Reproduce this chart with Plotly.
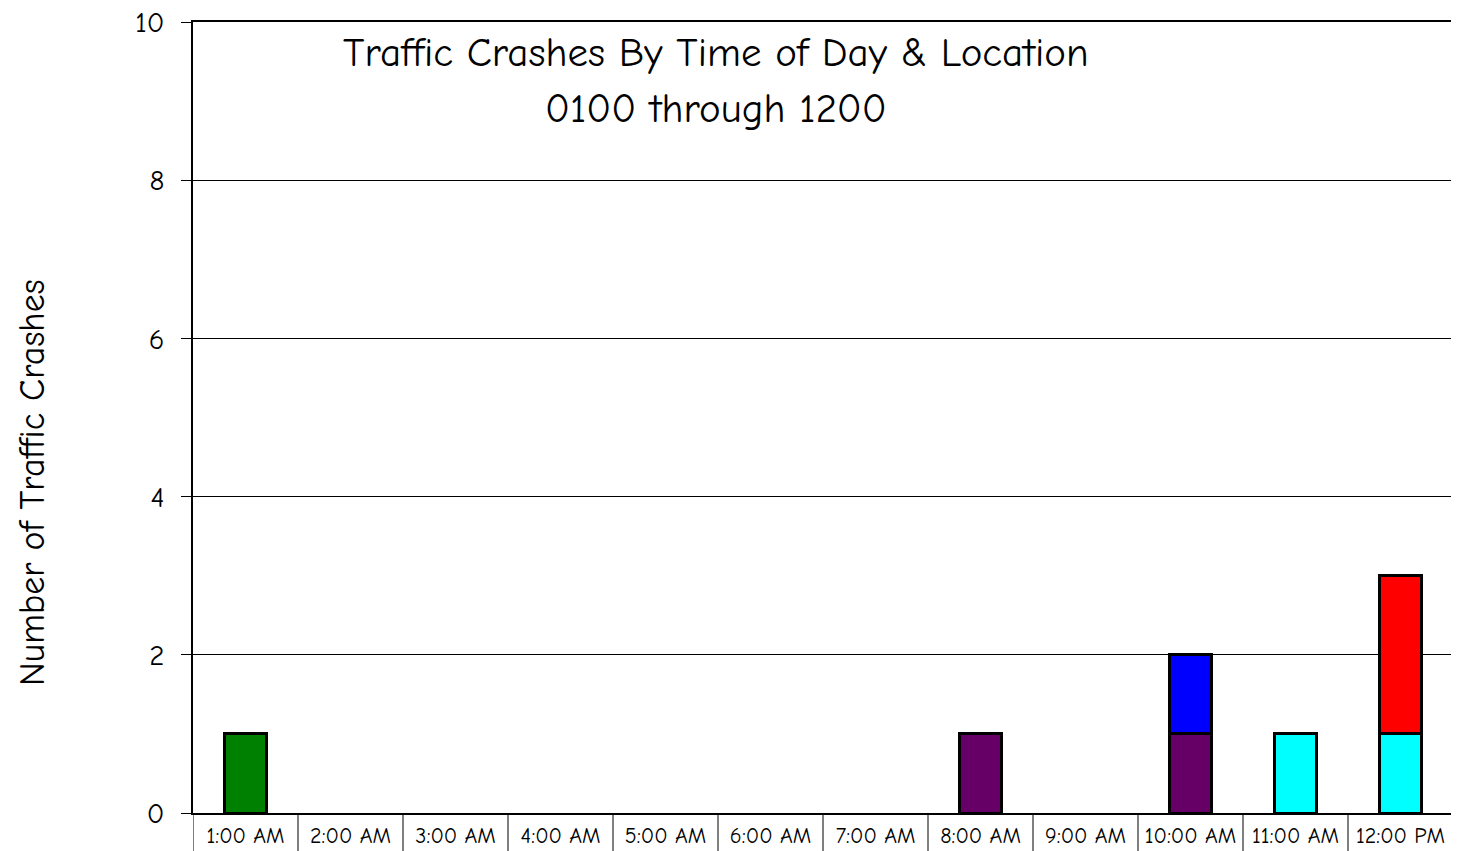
import plotly.graph_objects as go

categories = ["1:00 AM", "2:00 AM", "3:00 AM", "4:00 AM", "5:00 AM", "6:00 AM",
              "7:00 AM", "8:00 AM", "9:00 AM", "10:00 AM", "11:00 AM", "12:00 PM"]

loc_green = [1, 0, 0, 0, 0, 0, 0, 0, 0, 0, 0, 0]
loc_purple = [0, 0, 0, 0, 0, 0, 0, 1, 0, 1, 0, 0]
loc_cyan = [0, 0, 0, 0, 0, 0, 0, 0, 0, 0, 1, 1]
loc_blue = [0, 0, 0, 0, 0, 0, 0, 0, 0, 1, 0, 0]
loc_red = [0, 0, 0, 0, 0, 0, 0, 0, 0, 0, 0, 2]

y_ticks = [0, 2, 4, 6, 8, 10]

series = [
    ("Location 1", loc_green, "#008000"),
    ("Location 2", loc_purple, "#660066"),
    ("Location 3", loc_cyan, "#00FFFF"),
    ("Location 4", loc_blue, "#0000FF"),
    ("Location 5", loc_red, "#FF0000"),
]

FONT = "Comic Sans MS, Comic Neue, Lato, sans-serif"

fig = go.Figure()
idx = list(range(len(categories)))
for name, vals, color in series:
    fig.add_trace(go.Bar(
        x=idx, y=[v if v else None for v in vals], name=name,
        marker=dict(color=color, line=dict(color="black", width=3)),
        width=0.4,
    ))

shapes = []
for i in range(len(categories) + 1):
    shapes.append(dict(type="line", xref="x", yref="paper",
                       x0=i - 0.5, x1=i - 0.5, y0=0, y1=-0.06,
                       line=dict(color="black", width=1)))

fig.update_layout(
    width=1451, height=843,
    margin=dict(l=185, r=6, t=14, b=38, autoexpand=False),
    barmode="stack",
    showlegend=False,
    plot_bgcolor="white", paper_bgcolor="white",
    font=dict(family=FONT, color="black"),
    shapes=shapes,
    annotations=[
        dict(text="Traffic Crashes By Time of Day & Location", xref="paper", yref="paper",
             x=0.415, y=0.962, showarrow=False, font=dict(size=41, family=FONT),
             xanchor="center", yanchor="middle"),
        dict(text="0100 through 1200", xref="paper", yref="paper",
             x=0.415, y=0.891, showarrow=False, font=dict(size=41, family=FONT),
             xanchor="center", yanchor="middle"),
        dict(text="Number of Traffic Crashes", xref="paper", yref="paper",
             x=-0.127, y=0.4185, showarrow=False, textangle=-90,
             font=dict(size=36, family=FONT),
             xanchor="center", yanchor="middle"),
    ],
    xaxis=dict(
        range=[-0.5, len(categories) - 0.5], automargin=False,
        tickmode="array", tickvals=idx, ticktext=categories,
        tickfont=dict(size=22), ticks="", showgrid=False,
        showline=True, linecolor="black", linewidth=1.5, mirror=True,
        zeroline=False, tickangle=0, ticklabelstandoff=2,
    ),
    yaxis=dict(
        range=[0, 10], tickmode="array", tickvals=y_ticks, automargin=False,
        tickfont=dict(size=29), ticklabeloverflow="allow",
        ticks="outside", ticklen=10, tickcolor="black",
        ticklabelstandoff=11,
        showgrid=True, gridcolor="black", gridwidth=1,
        showline=True, linecolor="black", linewidth=1.5,
        zeroline=False,
    ),
)

fig.write_html("out.html")
